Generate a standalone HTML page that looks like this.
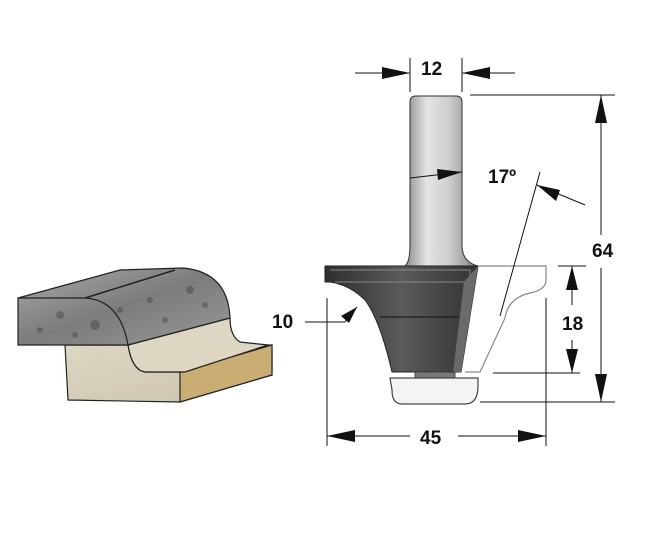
<!DOCTYPE html>
<html><head><style>
html,body{margin:0;padding:0;background:#fff;}
svg{display:block;}
text{font-family:"Liberation Sans",Arial,sans-serif;font-weight:bold;font-size:19px;fill:#111;}
</style></head><body>
<svg width="664" height="533" viewBox="0 0 664 533" xmlns="http://www.w3.org/2000/svg">
<defs>
<linearGradient id="shank" x1="0" x2="1" y1="0" y2="0">
<stop offset="0" stop-color="#8a8a8a"/><stop offset="0.3" stop-color="#e4e4e4"/><stop offset="0.6" stop-color="#cfcfcf"/><stop offset="1" stop-color="#7d7d7d"/>
</linearGradient>
<linearGradient id="body" x1="0" x2="1" y1="0" y2="0">
<stop offset="0" stop-color="#2e2e2e"/><stop offset="0.5" stop-color="#5a5a5a"/><stop offset="1" stop-color="#333"/>
</linearGradient>
<linearGradient id="stone" x1="0" x2="1" y1="0" y2="1">
<stop offset="0" stop-color="#a8a8a8"/><stop offset="0.5" stop-color="#7c7c7c"/><stop offset="1" stop-color="#999"/>
</linearGradient>
<linearGradient id="sand" x1="0" x2="1" y1="0" y2="1">
<stop offset="0" stop-color="#ddd6c2"/><stop offset="1" stop-color="#cbc3ac"/>
</linearGradient>
</defs>

<!-- stone sample -->
<path d="M65,345 L128,345 Q132,370 145,372 L185,372 L268,345 L272,345 L272,375 L180,402 L68,400 Z" fill="url(#sand)" stroke="#222" stroke-width="1.2"/>
<path d="M180,372 L272,345 L272,375 L180,402 Z" fill="#c9ad72" stroke="#222" stroke-width="1.2"/>
<path d="M128,345 Q132,370 145,372 L185,372 L268,345 L240,342 Q230,336 230,318 L128,345 Z" fill="#dcd6c2" stroke="#222" stroke-width="1.2"/>
<path d="M18,298 L120,270 L183,268 Q228,272 230,318 L128,345 L18,345 Z" fill="url(#stone)" stroke="#222" stroke-width="1.2"/>
<path d="M18,298 L85,298 Q120,300 128,345" fill="none" stroke="#222" stroke-width="1.2"/>
<path d="M85,298 L175,270" stroke="#222" stroke-width="1.5"/>
<g fill="#333" opacity="0.35">
<circle cx="60" cy="315" r="4"/><circle cx="95" cy="325" r="5"/><circle cx="40" cy="330" r="3"/>
<circle cx="150" cy="300" r="3"/><circle cx="190" cy="290" r="4"/><circle cx="120" cy="310" r="3"/>
<circle cx="205" cy="305" r="3"/><circle cx="75" cy="335" r="3"/><circle cx="165" cy="320" r="3"/>
</g>

<!-- shank -->
<path d="M410,102 Q410,96 416,96 L456,96 Q462,96 462,102 L462,245 Q462,262 478,266 L405,266 Q410,262 410,245 Z" fill="url(#shank)" stroke="#333" stroke-width="1"/>
<!-- body -->
<path d="M325,266 L478,266 L461,372 L392,372 Q380,320 365,300 Q350,285 330,282 L325,282 Z" fill="url(#body)" stroke="#222" stroke-width="1"/>
<path d="M330,270 L470,270 L470,282 L335,282" fill="none" stroke="#888" stroke-width="1"/>
<path d="M380,317 L466,317" stroke="#111" stroke-width="1"/>
<path d="M464,282 L478,266 L461,372 L453,372 Z" fill="#6a6a6a"/>
<rect x="415" y="372" width="40" height="6" fill="#777" stroke="#333" stroke-width="0.8"/>
<!-- bearing -->
<path d="M390,378 L478,378 L478,386 Q478,404 465,404 L402,404 Q392,404 392,390 Z" fill="#f4f4f4" stroke="#444" stroke-width="1.2"/>
<!-- workpiece profile -->
<path d="M478,266 L546,266 L546,280 Q546,290 530,293 Q508,298 505,318 L480,372 L465,372" fill="none" stroke="#888" stroke-width="1.2"/>

<g stroke="#111" stroke-width="1" fill="none">
<line x1="410" y1="58" x2="410" y2="92"/><line x1="462" y1="58" x2="462" y2="92"/>
<line x1="355" y1="73" x2="410" y2="73"/><line x1="462" y1="73" x2="515" y2="73"/>
<line x1="470" y1="95" x2="615" y2="95"/><line x1="480" y1="402" x2="615" y2="402"/>
<line x1="601" y1="95" x2="601" y2="235"/><line x1="601" y1="268" x2="601" y2="402"/>
<line x1="558" y1="266" x2="586" y2="266"/><line x1="493" y1="373" x2="580" y2="373"/>
<line x1="572" y1="266" x2="572" y2="305"/><line x1="572" y1="340" x2="572" y2="373"/>
<line x1="327" y1="298" x2="327" y2="446"/><line x1="546" y1="298" x2="546" y2="446"/>
<line x1="327" y1="436" x2="410" y2="436"/><line x1="458" y1="436" x2="546" y2="436"/>
<line x1="500" y1="316" x2="540" y2="172"/><line x1="537" y1="185" x2="585" y2="205"/>
<line x1="410" y1="178" x2="462" y2="172"/>
<line x1="305" y1="322" x2="345" y2="322"/><line x1="345" y1="322" x2="357" y2="307"/>
</g>
<g fill="#111">
<polygon points="410,73 382,67 382,79"/><polygon points="462,73 490,67 490,79"/>
<polygon points="601,95 595,123 607,123"/><polygon points="601,402 595,374 607,374"/>
<polygon points="572,266 566,290 578,290"/><polygon points="572,373 566,349 578,349"/>
<polygon points="327,436 355,430 355,442"/><polygon points="546,436 518,430 518,442"/>
<polygon points="462,172 437,169 438,180"/>
<polygon points="537,185 560,190 556,201"/>
<polygon points="357,307 341,316 349,323"/>
</g>
<text x="421" y="75">12</text>
<text x="488" y="183">17º</text>
<text x="592" y="257">64</text>
<text x="562" y="330">18</text>
<text x="272" y="328">10</text>
<text x="420" y="444">45</text>
</svg>
</body></html>
